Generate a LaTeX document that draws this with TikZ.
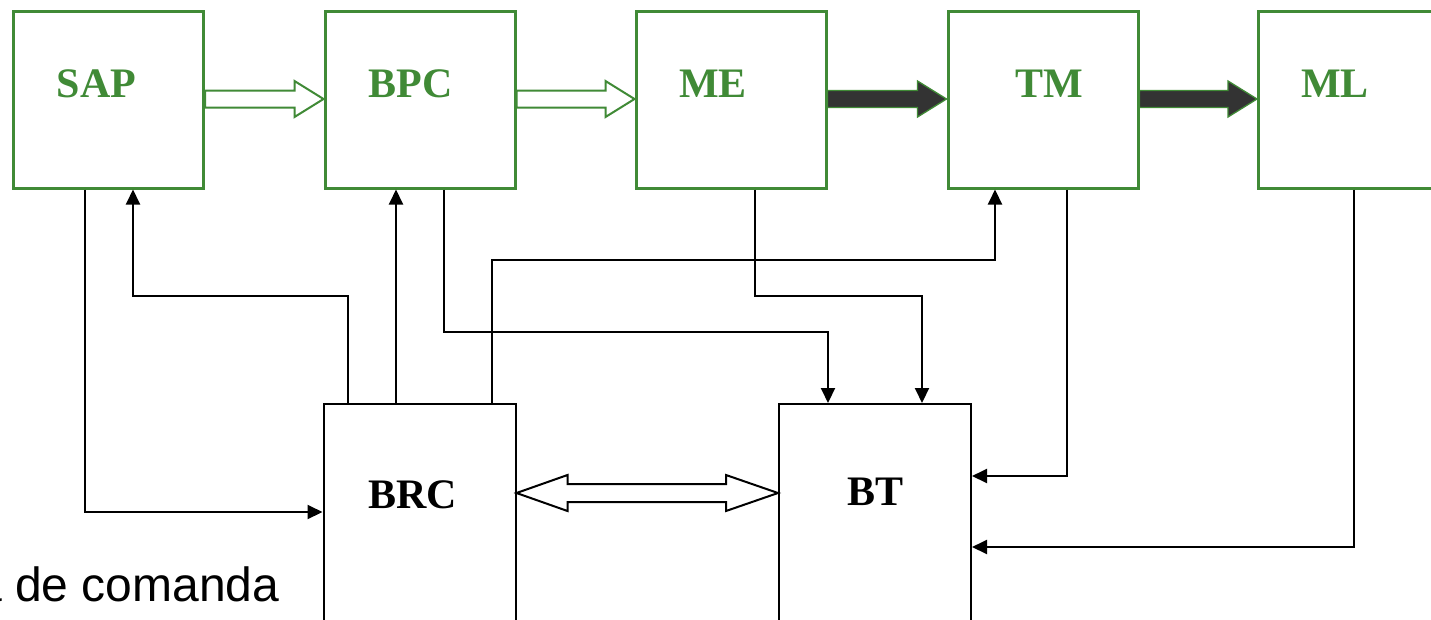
\documentclass[tikz,border=0pt]{standalone}
\usepackage{fontspec}
\setmainfont{Liberation Serif}
\newfontfamily\captionsans{Liberation Sans}
\usetikzlibrary{arrows.meta,calc}
\definecolor{boxgreen}{RGB}{64,138,54}
\definecolor{darkfill}{RGB}{51,51,51}

% wide block arrow from the east side of #2 to the west side of #3, style #1
\newcommand\flowarrow[3]{%
  \coordinate (fa-s) at (#2.east |- 0,99);
  \coordinate (fa-e) at (#3.west |- 0,99);
  \path[#1] ($(fa-s)+(0,-8.5)$) -- ($(fa-e)+(-29,-8.5)$) -- ++(0,-9.5) -- (fa-e)
    -- ++(-29,18) -- ++(0,-9.5) -- ($(fa-s)+(0,8.5)$) -- cycle;}

\begin{document}
\begin{tikzpicture}[x=1pt,y=-1pt,
  stagebox/.style={draw=boxgreen,line width=3pt,fill=white,minimum width=190pt,minimum height=177pt,inner sep=0pt},
  blockbox/.style={draw=black,line width=2pt,fill=white,minimum width=192pt,minimum height=260pt,inner sep=0pt},
  greenlabel/.style={text=boxgreen,font=\bfseries\fontsize{42}{42}\selectfont,anchor=base,inner sep=0pt},
  blacklabel/.style={text=black,font=\bfseries\fontsize{42}{42}\selectfont,anchor=base,inner sep=0pt},
  conn/.style={draw=black,line width=2pt,-{Triangle[length=15pt,width=14pt]}},
  plainline/.style={draw=black,line width=2pt},
  hollowarrow/.style={draw=boxgreen,line width=2pt,fill=white,line join=miter},
  darkarrow/.style={draw=boxgreen,line width=1.3pt,fill=darkfill,line join=miter},
  twinarrow/.style={draw=black,line width=2pt,fill=white,line join=miter}]

\useasboundingbox (0,0) rectangle (1431,619);
\clip (0,0) rectangle (1431,619);
\fill[white] (0,0) rectangle (1431,619);

% top row of stages
\node[stagebox] (SAP) at (108.5,99.5) {};
\node[stagebox] (BPC) at (420,99.5) {};
\node[stagebox] (ME)  at (731,99.5) {};
\node[stagebox] (TM)  at (1043,99.5) {};
\node[stagebox] (ML)  at (1353.5,99.5) {};

\node[greenlabel] (SAPt) at (96.5,97) {SAP};
\node[greenlabel] (BPCt) at (410.5,97) {BPC};
\node[greenlabel] (MEt)  at (713,97) {ME};
\node[greenlabel] (TMt)  at (1049,97) {TM};
\node[greenlabel] (MLt)  at (1335,97) {ML};

% lower blocks
\node[blockbox] (BRC) at (419.5,534) {};
\node[blockbox] (BT)  at (875,534) {};
\node[blacklabel] (BRCt) at (412.5,508) {BRC};
\node[blacklabel] (BTt)  at (875.5,505) {BT};

% block arrows along the top row
\flowarrow{hollowarrow}{SAP}{BPC}
\flowarrow{hollowarrow}{BPC}{ME}
\flowarrow{darkarrow}{ME}{TM}
\flowarrow{darkarrow}{TM}{ML}

% two-way block arrow between BRC and BT
\coordinate (dl) at (BRC.east |- 0,493);
\coordinate (dr) at (BT.west |- 0,493);
\path[twinarrow] (dl) -- ++(51,-18) -- ++(0,9) -- ($(dr)+(-52,-9)$) -- ++(0,-9) -- (dr)
  -- ++(-52,18) -- ++(0,-9) -- ($(dl)+(51,9)$) -- ++(0,9) -- cycle;

% signal lines
\draw[conn] (SAP.south -| 85,0) |- (BRC.west |- 0,512);
\draw[conn] (BRC.north -| 348,0) -- (348,296) -| (SAP.south -| 133,0);
\draw[conn] (BRC.north -| 396,0) -- (BPC.south -| 396,0);
\draw[conn] (BRC.north -| 492,0) -- (492,260) -| (TM.south -| 995,0);
\draw[conn] (BPC.south -| 444,0) -- (444,332) -| (BT.north -| 828,0);
\draw[conn] (ME.south -| 755,0) -- (755,296) -| (BT.north -| 922,0);
\draw[conn] (TM.south -| 1067,0) |- (BT.east |- 0,476);
\draw[conn] (ML.south -| 1354,0) |- (BT.east |- 0,547);

% caption fragment at the lower left
\node[anchor=base east,inner sep=0pt,font=\captionsans\fontsize{48}{48}\selectfont] (cap) at (279.5,601) {a de comanda};
\end{tikzpicture}
\end{document}
